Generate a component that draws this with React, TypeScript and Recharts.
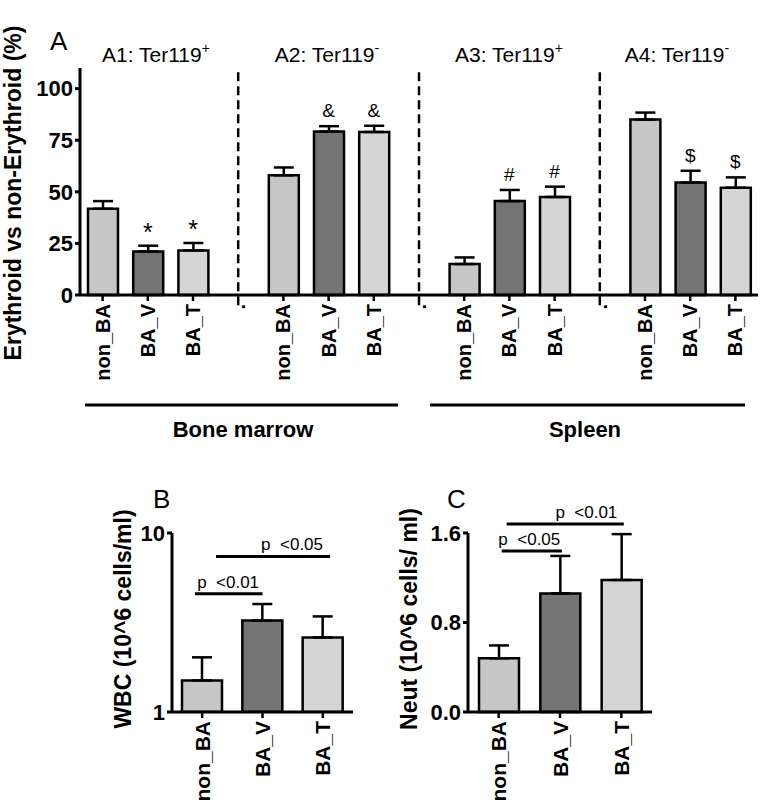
import React from "react";
import { ComposedChart, Bar, Cell, ErrorBar, XAxis, YAxis, Line, ReferenceLine, ReferenceDot } from "recharts";

const FONT = "'Liberation Sans', Arial, Helvetica, sans-serif";

// ---- panel A: % erythroid / non-erythroid
const groupCats = ["non_BA", "BA_V", "BA_T"];
const groupTitles = ["A1: Ter119", "A2: Ter119", "A3: Ter119", "A4: Ter119"];
const groupSigns = ["+", "-", "+", "-"];
const groupSymbols = ["*", "&", "#", "$"];
const a1Mean = [41.8, 21.1, 21.6];
const a1Sem = [3.7, 2.8, 3.6];
const a2Mean = [58, 79.2, 79];
const a2Sem = [3.8, 2.6, 3.0];
const a3Mean = [15, 45.5, 47.5];
const a3Sem = [3.2, 5.4, 5.0];
const a4Mean = [85, 54.5, 52];
const a4Sem = [3.4, 5.7, 5.0];
const aTicks = [0, 25, 50, 75, 100];

// ---- panel B: WBC (log scale)
const wbcMean = [1.5, 3.24, 2.61];
const wbcSem = [0.52, 0.77, 0.81];
const wbcTicks = [1, 10];

// ---- panel C: Neut
const neutMean = [0.48, 1.06, 1.18];
const neutSem = [0.115, 0.335, 0.41];
const neutTicks = [0, 0.8, 1.6];

// significance brackets, x in category-band units (0..3)
const wbcBrackets = [
  { from: 0.38, to: 1.5, y: 4.58, text: "p\u00a0 <0.01", textAt: 0.93 },
  { from: 0.73, to: 2.62, y: 7.4, text: "p\u00a0 <0.05", textAt: 1.99 },
];
const neutBrackets = [
  { from: 0.55, to: 1.53, y: 1.44, text: "p\u00a0 <0.05", textAt: 1.0 },
  { from: 0.63, to: 2.54, y: 1.68, text: "p\u00a0 <0.01", textAt: 1.93 },
];

const catFill: Record<string, string> = {
  non_BA: "#c6c6c6",
  BA_V: "#747474",
  BA_T: "#d5d5d5",
};

const aMeans = [a1Mean, a2Mean, a3Mean, a4Mean];
const aSems = [a1Sem, a2Sem, a3Sem, a4Sem];

const dataA: any[] = [];
aMeans.forEach((means, g) => {
  if (g > 0) dataA.push({ key: `gap${g}`, mean: null, hi: null, sym: "" });
  groupCats.forEach((cat, i) => {
    dataA.push({
      key: `A${g + 1}|${cat}`,
      cat,
      mean: means[i],
      err: [0, aSems[g][i]],
      hi: means[i] + aSems[g][i],
      sym: i > 0 ? groupSymbols[g] : "",
    });
  });
});

const makeSmall = (means: number[], sems: number[]) =>
  groupCats.map((cat, i) => ({ key: cat, cat, pos: i + 0.5, mean: means[i], err: [0, sems[i]] }));

const dataB = makeSmall(wbcMean, wbcSem);
const dataC = makeSmall(neutMean, neutSem);

const labelOf = (key: string) => (key.startsWith("gap") ? "." : key.includes("|") ? key.split("|")[1] : key);

function RotatedTick(props: any) {
  const { x, y, payload, fontSize } = props;
  const label = labelOf(String(payload.value));
  return (
    <g transform={`translate(${x},${y})`}>
      {label !== "." && <line x1={0} y1={-6} x2={0} y2={0} stroke="#000" strokeWidth={2.5} />}
      <text
        transform="rotate(-90)"
        x={-3}
        y={0}
        textAnchor="end"
        dominantBaseline="central"
        fontSize={fontSize}
        fontWeight="bold"
        fontFamily={FONT}
        fill="#000"
      >
        {label}
      </text>
    </g>
  );
}

const axisStyle = { stroke: "#000", strokeWidth: 3 };
const yTickStyle = { fill: "#000", fontSize: 22, fontWeight: "bold" as const, fontFamily: FONT };

function SymbolDot(props: any) {
  const { cx, cy, payload, index } = props;
  if (cx == null || cy == null || !payload?.sym) return <g key={`s${index}`} />;
  const star = payload.sym === "*";
  return (
    <text
      key={`s${index}`}
      x={cx}
      y={cy - (star ? 5 : 9)}
      textAnchor="middle"
      fontSize={star ? 25 : 19}
      fontFamily={FONT}
      fill="#000"
    >
      {payload.sym}
    </text>
  );
}

function SmallPanel({ data, left, width, marginRight, yWidth, yProps, brackets }: any) {
  return (
    <div style={{ position: "absolute", left, top: 470 }}>
      <ComposedChart width={width} height={335} data={data} margin={{ top: 63, right: marginRight, left: 0, bottom: 3 }}>
        <XAxis
          xAxisId="c"
          dataKey="key"
          interval={0}
          height={90}
          tickSize={6}
          tickMargin={0}
          tickLine={false}
          axisLine={axisStyle}
          tick={<RotatedTick fontSize={21} />}
        />
        <XAxis xAxisId="n" type="number" dataKey="pos" domain={[0, 3]} allowDataOverflow hide />
        <YAxis
          width={yWidth}
          tickSize={5}
          tickMargin={2}
          axisLine={axisStyle}
          tickLine={axisStyle}
          tick={yTickStyle}
          interval={0}
          {...yProps}
        />
        <Bar xAxisId="c" dataKey="mean" barSize={40} stroke="#000" strokeWidth={2.5} isAnimationActive={false}>
          {data.map((d: any) => (
            <Cell key={d.key} fill={catFill[d.cat]} />
          ))}
          <ErrorBar dataKey="err" direction="y" width={10} stroke="#000" strokeWidth={2.5} />
        </Bar>
        {brackets.map((b: any, i: number) => (
          <ReferenceLine
            key={`l${i}`}
            xAxisId="n"
            ifOverflow="visible"
            segment={[
              { x: b.from, y: b.y },
              { x: b.to, y: b.y },
            ]}
            stroke="#000"
            strokeWidth={3}
          />
        ))}
        {brackets.map((b: any, i: number) => (
          <ReferenceDot
            key={`t${i}`}
            xAxisId="n"
            x={b.textAt}
            y={b.y}
            ifOverflow="visible"
            shape={(p: any) => (
              <text x={p.cx} y={p.cy - 6} textAnchor="middle" fontSize={17} fontFamily={FONT} fill="#000">
                {b.text}
              </text>
            )}
          />
        ))}
      </ComposedChart>
    </div>
  );
}

const titleX = [156, 327, 509, 677];

export default function App() {
  return (
    <div style={{ position: "absolute", left: 0, top: 0, width: 762, height: 805, background: "#fff", fontFamily: FONT }}>
      <div style={{ position: "absolute", left: 0, top: 0 }}>
        <ComposedChart width={762} height={460} data={dataA} margin={{ top: 68, right: 4, left: 0, bottom: 65 }}>
          <XAxis
            xAxisId="c"
            dataKey="key"
            interval={0}
            height={100}
            tickSize={6}
            tickMargin={0}
            tickLine={false}
            axisLine={axisStyle}
            tick={<RotatedTick fontSize={20} />}
          />
          <YAxis
            width={80}
            domain={[0, 110]}
            ticks={aTicks}
            interval={0}
            tickSize={5}
            tickMargin={2}
            axisLine={axisStyle}
            tickLine={axisStyle}
            tick={yTickStyle}
          />
          {dataA
            .filter((d) => d.key.startsWith("gap"))
            .map((d) => (
              <ReferenceLine
                key={d.key}
                xAxisId="c"
                ifOverflow="visible"
                segment={[
                  { x: d.key, y: -5 },
                  { x: d.key, y: 110 },
                ]}
                stroke="#000"
                strokeWidth={2.5}
                strokeDasharray="9 5"
              />
            ))}
          <Bar xAxisId="c" dataKey="mean" barSize={30} stroke="#000" strokeWidth={2.5} isAnimationActive={false}>
            {dataA.map((d) => (
              <Cell key={d.key} fill={d.cat ? catFill[d.cat] : "none"} />
            ))}
            <ErrorBar dataKey="err" direction="y" width={10} stroke="#000" strokeWidth={2.5} />
          </Bar>
          <Line
            xAxisId="c"
            dataKey="hi"
            stroke="none"
            isAnimationActive={false}
            activeDot={false}
            legendType="none"
            dot={SymbolDot}
          />
        </ComposedChart>
      </div>

      <SmallPanel
        data={dataB}
        left={0}
        width={380}
        marginRight={27}
        yWidth={172}
        yProps={{ scale: "log", type: "number", domain: [1, 10], ticks: wbcTicks, allowDataOverflow: true }}
        brackets={wbcBrackets}
      />
      <SmallPanel
        data={dataC}
        left={380}
        width={382}
        marginRight={110}
        yWidth={88}
        yProps={{ domain: [0, 1.6], ticks: neutTicks, tickFormatter: (v: number) => v.toFixed(1) }}
        brackets={neutBrackets}
      />

      <svg width={762} height={805} style={{ position: "absolute", left: 0, top: 0, pointerEvents: "none" }}>
        <g fontFamily={FONT} fill="#000">
          <text x={50} y={50} fontSize={26}>A</text>
          {groupTitles.map((t, i) => (
            <text key={t + i} x={titleX[i]} y={62} fontSize={21} textAnchor="middle">
              <tspan>{t}</tspan>
              <tspan dy={-9} fontSize={14}>{groupSigns[i]}</tspan>
            </text>
          ))}
          <text transform="translate(21,193) rotate(-90)" textAnchor="middle" fontSize={23} fontWeight="bold">
            Erythroid vs non-Erythroid (%)
          </text>
          <line x1={85} y1={405} x2={398} y2={405} stroke="#000" strokeWidth={3} />
          <line x1={430} y1={405} x2={745} y2={405} stroke="#000" strokeWidth={3} />
          <text x={243} y={437} fontSize={22} fontWeight="bold" textAnchor="middle">Bone marrow</text>
          <text x={585} y={437} fontSize={22} fontWeight="bold" textAnchor="middle">Spleen</text>

          <text x={153} y={508} fontSize={26}>B</text>
          <text x={447} y={508} fontSize={26}>C</text>
          <text transform="translate(131,619) rotate(-90)" textAnchor="middle" fontSize={23} fontWeight="bold">
            WBC (10^6 cells/ml)
          </text>
          <text transform="translate(417,619) rotate(-90)" textAnchor="middle" fontSize={23} fontWeight="bold">
            Neut (10^6 cells/ ml)
          </text>
        </g>
      </svg>
    </div>
  );
}
